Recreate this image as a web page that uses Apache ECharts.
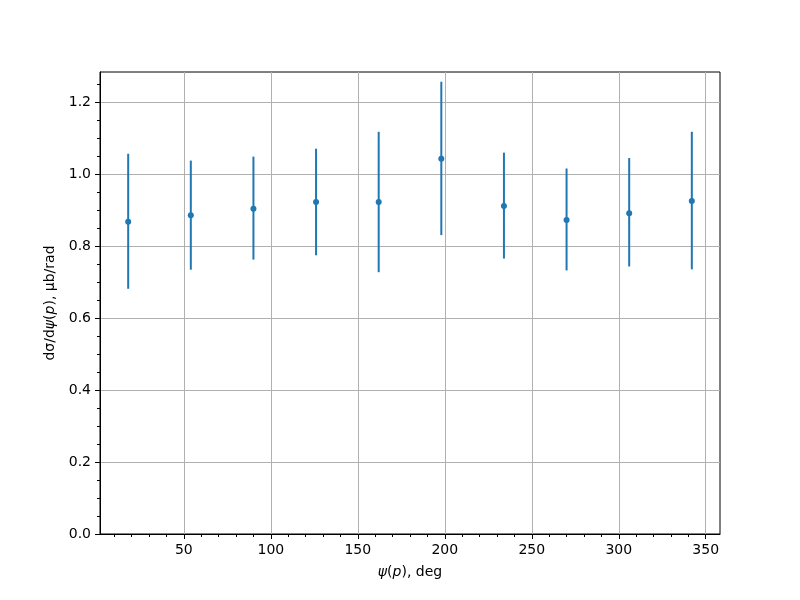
<!DOCTYPE html>
<html><head><meta charset="utf-8">
<script src="https://cdn.jsdelivr.net/npm/echarts@6/dist/echarts.min.js"></script>
<style>html,body{margin:0;padding:0;background:#fff}#c{width:800px;height:600px}</style>
</head><body><div id="c"></div>
<script>
const psi = [18, 54, 90, 126, 162, 198, 234, 270, 306, 342];
const dsig = [0.867, 0.885, 0.903, 0.922, 0.922, 1.042, 0.911, 0.872, 0.891, 0.925];
const errLow = [0.681, 0.734, 0.762, 0.774, 0.727, 0.830, 0.765, 0.732, 0.743, 0.735];
const errHigh = [1.056, 1.037, 1.048, 1.070, 1.117, 1.256, 1.059, 1.015, 1.044, 1.117];
const xTicks = [50, 100, 150, 200, 250, 300, 350];
const yTicks = [0, 0.2, 0.4, 0.6, 0.8, 1.0, 1.2];

const C = '#1f77b4';
const font = 'DejaVu Sans';
const fs = 14;
const chart = echarts.init(document.getElementById('c'), null, {renderer: 'canvas'});
const pts = psi.map((x, i) => [x, dsig[i]]);
const errs = psi.map((x, i) => [x, errLow[i], errHigh[i]]);
chart.setOption({
  animation: false,
  grid: {left: 100, right: 80, top: 72, bottom: 66, show: true, borderColor: '#000', borderWidth: 1, backgroundColor: 'transparent'},
  xAxis: {
    type: 'value', min: 1.8, max: 358.2, splitNumber: 7,
    name: '{i|ψ}({i|p}), deg', nameLocation: 'middle', nameGap: 31,
    nameTextStyle: {fontFamily: font, fontSize: fs, color: '#000', rich: {i: {fontStyle: 'italic', fontFamily: font, fontSize: fs}}},
    axisLine: {show: true, lineStyle: {color: '#000', width: 1}},
    axisTick: {show: true, inside: false, length: 5, customValues: xTicks, lineStyle: {color: '#000', width: 1}},
    minorTick: {show: true, splitNumber: 5, length: 3, lineStyle: {color: '#000', width: 1}},
    axisLabel: {showMinLabel: true, showMaxLabel: true, customValues: xTicks, color: '#000', fontFamily: font, fontSize: fs, margin: 9},
    splitLine: {show: true, lineStyle: {color: '#b0b0b0', width: 1}},
    minorSplitLine: {show: false}
  },
  yAxis: {
    type: 'value', min: 0, max: 1.283, interval: 0.2,
    name: 'dσ/d{i|ψ}({i|p}), μb/rad', nameLocation: 'middle', nameGap: 40, nameRotate: 90,
    nameTextStyle: {fontFamily: font, fontSize: fs, color: '#000', rich: {i: {fontStyle: 'italic', fontFamily: font, fontSize: fs}}},
    axisLine: {show: true, lineStyle: {color: '#000', width: 1}},
    axisTick: {show: true, inside: false, length: 5, customValues: yTicks, lineStyle: {color: '#000', width: 1}},
    minorTick: {show: true, splitNumber: 4, length: 3, lineStyle: {color: '#000', width: 1}},
    axisLabel: {showMinLabel: true, showMaxLabel: true, customValues: yTicks, color: '#000', fontFamily: font, fontSize: fs, margin: 9,
      formatter: v => v.toFixed(1)},
    splitLine: {show: true, lineStyle: {color: '#b0b0b0', width: 1}},
    minorSplitLine: {show: false}
  },
  series: [
    {
      type: 'custom',
      data: errs,
      renderItem: (params, api) => {
        const lo = api.coord([api.value(0), api.value(1)]);
        const hi = api.coord([api.value(0), api.value(2)]);
        return {type: 'line', shape: {x1: lo[0], y1: lo[1], x2: hi[0], y2: hi[1]},
          style: {stroke: C, lineWidth: 2}};
      },
      encode: {x: 0, y: [1, 2]},
      z: 2
    },
    {
      type: 'scatter', data: pts, symbol: 'circle', symbolSize: 6,
      itemStyle: {color: C, opacity: 1}, z: 3
    }
  ]
});
</script></body></html>
